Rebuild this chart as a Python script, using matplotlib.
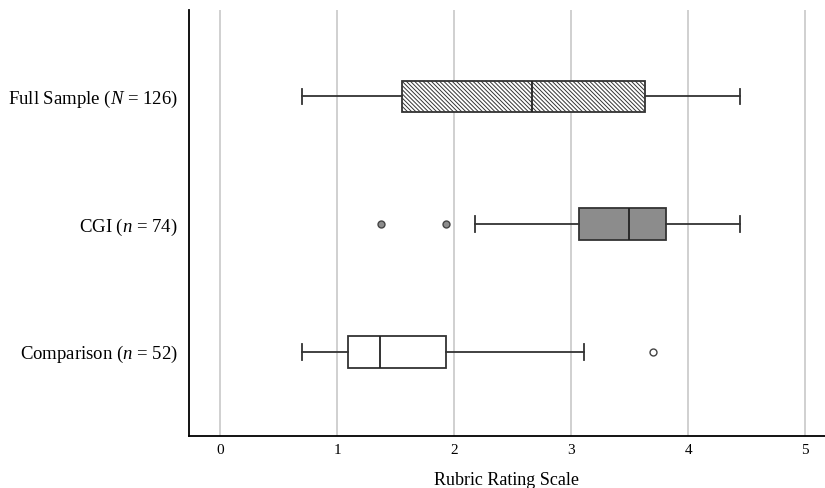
import matplotlib.pyplot as plt

plt.rcParams['font.family'] = ['Liberation Serif', 'DejaVu Serif']
plt.rcParams['mathtext.fontset'] = 'custom'
plt.rcParams['mathtext.rm'] = 'Liberation Serif'
plt.rcParams['mathtext.it'] = 'Liberation Serif:italic'

# valores (escala de 0 a 5)
grupos = ['Full Sample', 'CGI', 'Comparison']
rotulos = ['Full Sample ($\\mathit{N}$ = 126)', 'CGI ($\\mathit{n}$ = 74)', 'Comparison ($\\mathit{n}$ = 52)']
whisker_min = [0.70, 2.18, 0.70]
q1 = [1.55, 3.07, 1.09]
mediana = [2.66, 3.49, 1.36]
q3 = [3.63, 3.81, 1.93]
whisker_max = [4.44, 4.44, 3.11]
outliers = [[], [1.37, 1.93], [3.70]]

posicoes = [0, 1, 2]
cores = ['white', '#8c8c8c', 'white']
hatches = ['\\' * 8, None, None]
cor_outlier = ['white', '#8c8c8c', 'white']

stats = []
for i in range(len(grupos)):
    stats.append({'label': rotulos[i], 'whislo': whisker_min[i], 'q1': q1[i],
                  'med': mediana[i], 'q3': q3[i], 'whishi': whisker_max[i],
                  'fliers': outliers[i]})

fig = plt.figure(figsize=(8.25, 4.88), dpi=100)
ax = fig.add_axes([0.229, 0.107, 0.771, 0.873])

plt.rcParams['hatch.color'] = '#555555'
plt.rcParams['hatch.linewidth'] = 0.7

for i in range(len(grupos)):
    bp = ax.bxp([stats[i]], positions=[posicoes[i]], widths=[0.25],
                vert=False, patch_artist=True, capwidths=[0.125],
                boxprops=dict(edgecolor='#333333', linewidth=1.3),
                whiskerprops=dict(color='#333333', linewidth=1.3),
                capprops=dict(color='#333333', linewidth=1.3),
                medianprops=dict(color='#222222', linewidth=1.3),
                flierprops=dict(marker='o', markersize=5, markerfacecolor=cor_outlier[i],
                                markeredgecolor='#444444', markeredgewidth=1.0))
    for b in bp['boxes']:
        b.set_facecolor(cores[i])
        if hatches[i]:
            b.set_hatch(hatches[i])

ax.set_xlim(-0.27, 5.17)
ax.set_ylim(2.66, -0.68)
ax.set_yticks(posicoes)
ax.set_yticklabels(rotulos, fontsize=13.5)
ax.set_xticks([0, 1, 2, 3, 4, 5])
ax.set_xticklabels(['0', '1', '2', '3', '4', '5'], fontsize=11)
ax.tick_params(axis='x', length=0, pad=6)
ax.tick_params(axis='y', length=0, pad=8)
ax.set_xlabel('Rubric Rating Scale', fontsize=13, labelpad=11)

ax.xaxis.grid(True, color='#c8c8c8', linewidth=1.2)
ax.set_axisbelow(True)
ax.spines['top'].set_visible(False)
ax.spines['right'].set_visible(False)
ax.spines['left'].set_linewidth(1.3)
ax.spines['bottom'].set_linewidth(1.3)

plt.savefig('out.png', dpi=100)
